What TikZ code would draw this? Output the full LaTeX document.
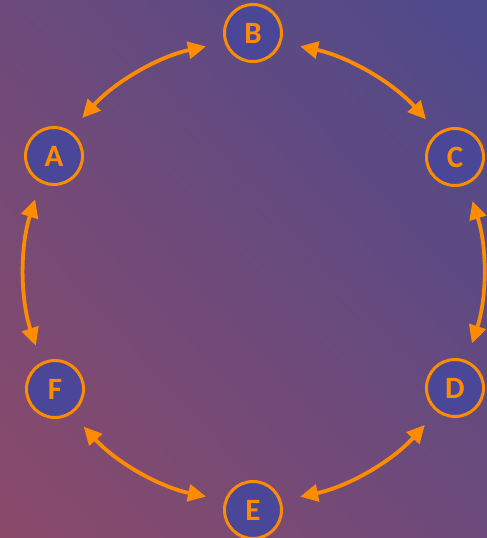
\documentclass[tikz,border=0pt]{standalone}
\usepackage{fontspec}
\setmainfont{Carlito}
\usetikzlibrary{arrows.meta,shadings,calc}
\definecolor{bgTR}{HTML}{4C4A8C}
\definecolor{bgBL}{HTML}{8B4A6A}
\definecolor{bgMid}{HTML}{6C4A7B}
\definecolor{nodefill}{HTML}{4A4799}
\definecolor{orng}{HTML}{FF8C00}
\tikzset{
  letter/.style={circle, draw=orng, line width=3pt, fill=nodefill, minimum size=57pt, inner sep=0pt,
    text=orng, font=\bfseries\fontsize{31}{31}\selectfont},
  link/.style={draw=orng, line width=3.8pt, {Triangle[length=18pt,width=17pt]}-{Triangle[length=18pt,width=17pt]},
    bend left=18, looseness=0.87}
}
\newcommand{\gap}{11.8}
\newcommand{\rad}{230pt}
\begin{document}
\begin{tikzpicture}[x=1pt,y=1pt]
\shade[upper right=bgTR, lower left=bgBL, upper left=bgMid, lower right=bgMid] (0,0) rectangle (487,538);
\useasboundingbox (0,0) rectangle (487,538);
\coordinate (O) at (253.5,266.5);
\node[letter] (A) at (54,382) {A};
\node[letter] (B) at (253,505) {B};
\node[letter] (C) at (455,381) {C};
\node[letter] (D) at (455,150) {D};
\node[letter] (E) at (253,28) {E};
\node[letter] (F) at (55,149) {F};
\foreach \s/\t in {A/B,B/C,C/D,D/E,E/F,F/A}{
  \draw[link] ($(O)!\rad!-\gap:(\s.center)$) to ($(O)!\rad!\gap:(\t.center)$);
}
\end{tikzpicture}
\end{document}
